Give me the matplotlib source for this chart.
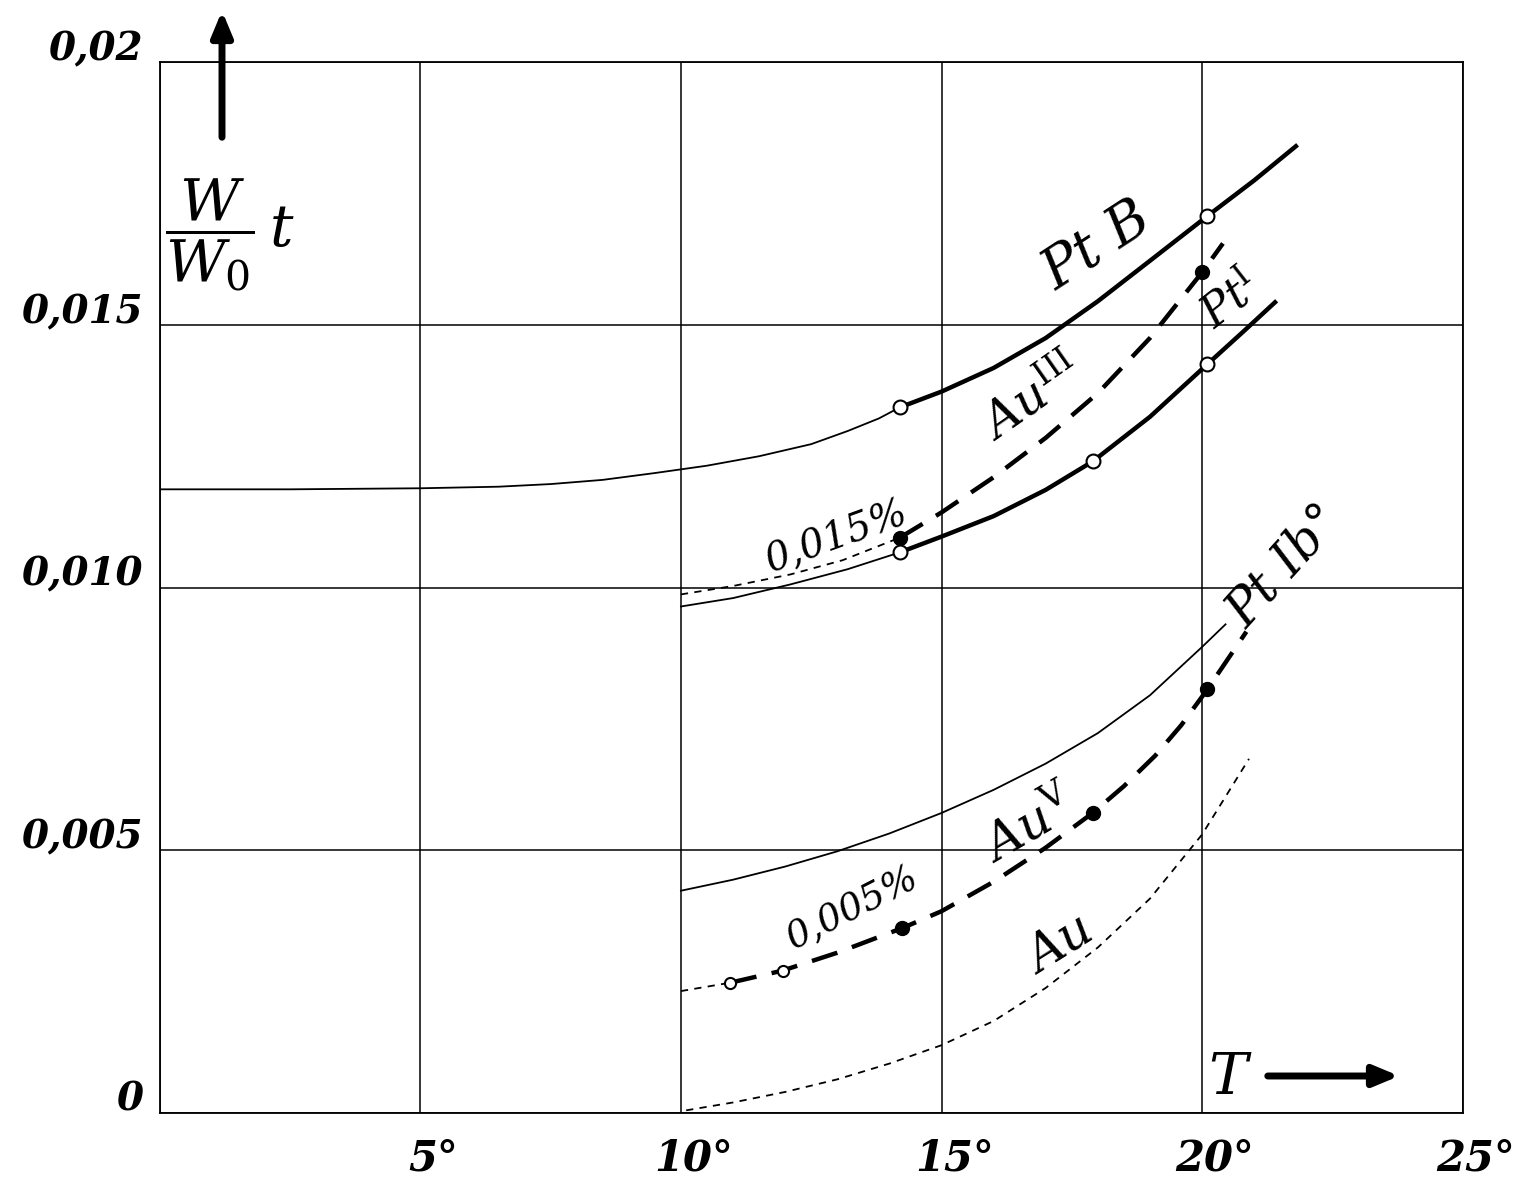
import matplotlib.pyplot as plt
import matplotlib.transforms as mtransforms
from matplotlib.patches import FancyArrowPatch

# Achsen
x_ticks = [0, 5, 10, 15, 20, 25]
x_labels = ["", "5°", "10°", "15°", "20°", "25°"]
y_ticks = [0, 0.005, 0.010, 0.015, 0.02]
y_labels = ["0", "0,005", "0,010", "0,015", "0,02"]

# Pt B (duenn bis 14,2°, dann dick)
ptb_x_thin = [0, 2.5, 5, 6.5, 7.5, 8.5, 9.5, 10.5, 11.5, 12.5, 13.2, 13.8, 14.2]
ptb_y_thin = [0.01187, 0.01187, 0.01189, 0.01192, 0.01197, 0.01205, 0.01218, 0.01232, 0.01250, 0.01273,
              0.01298, 0.01322, 0.01343]
ptb_x = [14.2, 15, 16, 17, 18, 19, 20.1, 21, 21.8]
ptb_y = [0.01343, 0.01373, 0.01418, 0.01475, 0.01545, 0.01622, 0.01707, 0.01775, 0.01840]
ptb_pts_x = [14.2, 20.1]
ptb_pts_y = [0.01343, 0.01707]

# Au III (0,015 %)
au3_x_thin = [10, 11, 12.1, 13.1, 14.2]
au3_y_thin = [0.00987, 0.01003, 0.01025, 0.01052, 0.01095]
au3_x = [14.2, 15, 16, 17, 18, 19, 20.0, 20.4]
au3_y = [0.01095, 0.01143, 0.01210, 0.01285, 0.01370, 0.01475, 0.01600, 0.01655]
au3_pts_x = [14.2, 20.0]
au3_pts_y = [0.01095, 0.01600]

# Pt I
pt1_x_thin = [10, 11, 12.1, 13.2, 14.2]
pt1_y_thin = [0.00964, 0.00980, 0.01006, 0.01035, 0.01067]
pt1_x = [14.2, 15, 16, 17, 17.9, 19.0, 20.1, 20.8, 21.4]
pt1_y = [0.01067, 0.01097, 0.01136, 0.01186, 0.01240, 0.01325, 0.01425, 0.01488, 0.01543]
pt1_pts_x = [14.2, 17.9, 20.1]
pt1_pts_y = [0.01067, 0.01240, 0.01425]

# Pt Ib°
ptib_x = [10, 11, 12, 13, 14, 15, 16, 17, 18, 19, 20, 20.45]
ptib_y = [0.00423, 0.00444, 0.00469, 0.00498, 0.00532, 0.00571, 0.00615, 0.00665, 0.00723, 0.00795,
          0.00887, 0.00930]

# Au V (0,005 %)
au5_x_thin = [10, 10.95]
au5_y_thin = [0.00232, 0.00248]
au5_x = [10.95, 11.95, 13, 14.25, 15, 16, 17, 17.9, 18.5, 19.1, 19.6, 20.1, 20.85]
au5_y = [0.00248, 0.00271, 0.00305, 0.00352, 0.00384, 0.00440, 0.00505, 0.00571, 0.00622, 0.00680,
         0.00738, 0.00806, 0.00916]
au5_open_x = [10.95, 11.95]
au5_open_y = [0.00248, 0.00271]
au5_fill_x = [14.25, 17.9, 20.1]
au5_fill_y = [0.00352, 0.00571, 0.00806]

# Au
au_x = [10.1, 11, 12, 13, 14, 15, 16, 17, 18, 19, 20, 20.9]
au_y = [0.00005, 0.00020, 0.00040, 0.00064, 0.00094, 0.00129, 0.00175, 0.00238, 0.00315, 0.00408,
        0.00530, 0.00674]

plt.rcParams['mathtext.fontset'] = 'dejavuserif'
schrift = dict(family="DejaVu Serif", style="italic", color="black")

fig = plt.figure(figsize=(15.22, 11.82), dpi=100)
ax = fig.add_axes([0.105, 0.0584, 0.856, 0.889])

dick = 3.2
duenn = 1.3
strich = (0, (6, 3.5))
fein = (0, (4, 3.5))

ax.plot(ptb_x_thin, ptb_y_thin, color="black", lw=duenn)
ax.plot(ptb_x, ptb_y, color="black", lw=dick)
ax.plot(ptb_pts_x, ptb_pts_y, "o", ms=10, mfc="white", mec="black", mew=1.5)

ax.plot(au3_x_thin, au3_y_thin, color="black", lw=duenn, ls=fein)
ax.plot(au3_x, au3_y, color="black", lw=dick, ls=strich)
ax.plot(au3_pts_x, au3_pts_y, "o", ms=10, color="black")

ax.plot(pt1_x_thin, pt1_y_thin, color="black", lw=duenn)
ax.plot(pt1_x, pt1_y, color="black", lw=dick)
ax.plot(pt1_pts_x, pt1_pts_y, "o", ms=10, mfc="white", mec="black", mew=1.5)

ax.plot(ptib_x, ptib_y, color="black", lw=duenn)

ax.plot(au5_x_thin, au5_y_thin, color="black", lw=duenn, ls=fein)
ax.plot(au5_x, au5_y, color="black", lw=dick, ls=strich)
ax.plot(au5_open_x, au5_open_y, "o", ms=8, mfc="white", mec="black", mew=1.5)
ax.plot(au5_fill_x, au5_fill_y, "o", ms=10, color="black")

ax.plot(au_x, au_y, color="black", lw=duenn, ls=fein)

# Beschriftungen der Kurven
ax.text(18.0, 0.01650, "Pt B", fontsize=40, rotation=33, ha="center", va="center", **schrift)
ax.text(16.75, 0.01358, r"Au$^{\mathrm{III}}$", fontsize=35, rotation=35, ha="center", va="center", **schrift)
ax.text(20.55, 0.01545, r"Pt$^{\mathrm{I}}$", fontsize=32, rotation=38, ha="center", va="center", **schrift)
ax.text(21.6, 0.01040, "Pt Ib°", fontsize=36, rotation=48, ha="center", va="center", **schrift)
ax.text(16.7, 0.00545, r"Au$^{\mathrm{V}}$", fontsize=36, rotation=30, ha="center", va="center", **schrift)
ax.text(17.3, 0.00320, "Au", fontsize=36, rotation=32, ha="center", va="center", **schrift)
ax.text(13.0, 0.01095, "0,015%", fontsize=28, rotation=20, ha="center", va="center", **schrift)
ax.text(13.3, 0.00390, "0,005%", fontsize=27, rotation=27, ha="center", va="center", **schrift)

ax.set_xlim(0, 25)
ax.set_ylim(0, 0.02)
ax.set_xticks(x_ticks)
ax.set_xticklabels(x_labels, fontsize=30, fontweight="bold", **schrift)
ax.set_yticks(y_ticks)
ax.set_yticklabels(y_labels, fontsize=28, fontweight="bold", **schrift)
ax.tick_params(length=0, pad=12)
ax.tick_params(axis="x", pad=18)
ax.grid(True, color="black", lw=1.1)
for s in ax.spines.values():
    s.set_linewidth(1.3)

# Tick-Beschriftungen leicht versetzt, wie in der Vorlage
dx = mtransforms.ScaledTranslation(0.13, 0, fig.dpi_scale_trans)
for lab in ax.get_xticklabels():
    lab.set_transform(lab.get_transform() + dx)
dy = mtransforms.ScaledTranslation(0, 0.17, fig.dpi_scale_trans)
for lab in ax.get_yticklabels():
    lab.set_transform(lab.get_transform() + dy)

# Achsentitel mit Pfeilen
fig.text(230 / 1522, 1 - 235 / 1182, r"$\dfrac{W}{W_0}\,t$", fontsize=42, ha="center", va="center")
fig.add_artist(FancyArrowPatch(
    (222 / 1522, 1 - 140 / 1182), (222 / 1522, 1 - 8 / 1182),
    transform=fig.transFigure, arrowstyle="-|>,head_length=0.6,head_width=0.25",
    mutation_scale=25, lw=5, color="black"))
fig.text(1228 / 1522, 1 - 1078 / 1182, "T", fontsize=42, ha="center", va="center", **schrift)
fig.add_artist(FancyArrowPatch(
    (1265 / 1522, 1 - 1076 / 1182), (1402 / 1522, 1 - 1076 / 1182),
    transform=fig.transFigure, arrowstyle="-|>,head_length=0.6,head_width=0.25",
    mutation_scale=25, lw=5, color="black"))

fig.savefig("out.png", dpi=100)
